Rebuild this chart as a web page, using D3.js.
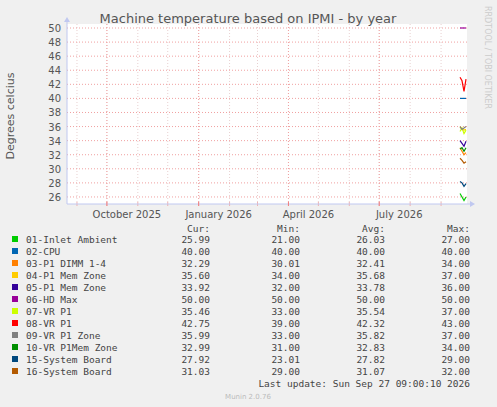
<!DOCTYPE html><html><head><script src="https://cdn.jsdelivr.net/npm/d3@7"></script>
<style>body{margin:0;background:#f0f0f0}text{font-family:"DejaVu Sans",sans-serif}text.m{font-family:"DejaVu Sans Mono",monospace}</style></head><body>
<svg id="c" width="497" height="407"></svg>
<script>
const names=["01-Inlet Ambient","02-CPU","03-P1 DIMM 1-4","04-P1 Mem Zone","05-P1 Mem Zone","06-HD Max","07-VR P1","08-VR P1","09-VR P1 Zone","10-VR P1Mem Zone","15-System Board","16-System Board"];
const colors=["#00cc00","#0066b3","#ff8000","#ffcc00","#330099","#990099","#ccff00","#ff0000","#808080","#008f00","#00487d","#b35a00"];
const cur=["25.99","40.00","32.29","35.60","33.92","50.00","35.46","42.75","35.99","32.99","27.92","31.03"];
const mins=["21.00","40.00","30.01","34.00","32.00","50.00","33.00","39.00","33.00","31.00","23.01","29.00"];
const avgs=["26.03","40.00","32.41","35.68","33.78","50.00","35.54","42.32","35.82","32.83","27.82","31.07"];
const maxs=["27.00","40.00","34.00","37.00","36.00","50.00","37.00","43.00","37.00","34.00","29.00","32.00"];
const days=["2026-09-20","2026-09-22","2026-09-24","2026-09-26"];
const series=[[26.5,26,25.5,26],[40,40,40,40],[33,32.5,32,32.3],[36,35.6,35.5,35.6],[34,33.6,33.2,33.9],[50,50,50,50],[35.3,35.8,35,35.5],[43,42.5,41,42.75],[36,35.6,35.8,36],[32.8,33,32.5,33],[28.2,28,27.5,27.9],[31.5,31.2,30.8,31]];
const xTicks=[["2025-10-01","October 2025"],["2026-01-01","January 2026"],["2026-04-01","April 2026"],["2026-07-01","July 2026"]];
const yTicks=d3.range(26,51,2);
const svg=d3.select("#c");
const L=67,R=467,T=28,B=204;
const x=d3.scaleTime().domain([new Date("2025-08-22"),new Date("2026-09-27")]).range([L,R]);
const y=d3.scaleLinear().domain([25,50]).range([B,T]);
svg.append("rect").attr("x",L).attr("y",T-4).attr("width",R-L).attr("height",B-T+4).attr("fill","#fff");
const months=d3.timeMonth.range(new Date("2025-09-01"),new Date("2026-09-28"));
svg.selectAll(".mg").data(months).join("line").attr("x1",d=>x(d)).attr("x2",d=>x(d)).attr("y1",T-4).attr("y2",B).attr("stroke","#e8d0d0").attr("stroke-dasharray","1,2");
svg.selectAll(".yg").data(yTicks).join("line").attr("x1",L).attr("x2",R).attr("y1",d=>y(d)).attr("y2",d=>y(d)).attr("stroke","#f0a0a0").attr("stroke-dasharray","1,2");
svg.selectAll(".xg").data(xTicks).join("line").attr("x1",d=>x(new Date(d[0]))).attr("x2",d=>x(new Date(d[0]))).attr("y1",T-4).attr("y2",B).attr("stroke","#f0a0a0").attr("stroke-dasharray","1,2");
svg.selectAll(".mtk").data(months).join("line").attr("x1",d=>x(d)).attr("x2",d=>x(d)).attr("y1",B-2).attr("y2",B+2).attr("stroke","#f0b0b0");
svg.append("line").attr("x1",L).attr("x2",R+4).attr("y1",B).attr("y2",B).attr("stroke","#c0c8f0");
svg.append("line").attr("x1",L).attr("x2",L).attr("y1",B).attr("y2",T-8).attr("stroke","#c0c8f0");
svg.append("path").attr("d",`M${R+3},${B-3}L${R+8},${B}L${R+3},${B+3}Z`).attr("fill","#c0c8f0");
svg.append("path").attr("d",`M${L-3},${T-6}L${L},${T-11}L${L+3},${T-6}Z`).attr("fill","#c0c8f0");
svg.selectAll(".yt").data(yTicks).join("text").attr("x",L-6).attr("y",d=>y(d)+4).attr("text-anchor","end").attr("font-size",10).attr("fill","#555").text(d=>d);
svg.selectAll(".xt").data(xTicks).join("text").attr("x",d=>x(new Date(d[0]))+20).attr("y",B+14).attr("text-anchor","middle").attr("font-size",10).attr("fill","#555").text(d=>d[1]);
svg.selectAll(".xtk").data(xTicks).join("line").attr("x1",d=>x(new Date(d[0]))).attr("x2",d=>x(new Date(d[0]))).attr("y1",B-2).attr("y2",B+2).attr("stroke","#f08080");
const ln=d3.line().x((d,i)=>x(new Date(days[i]))).y(d=>y(d));
series.forEach((s,i)=>svg.append("path").attr("d",ln(s)).attr("fill","none").attr("stroke",colors[i]).attr("stroke-width",1.2));
svg.append("text").attr("x",248).attr("y",23).attr("text-anchor","middle").attr("font-size",13).attr("fill","#555").text("Machine temperature based on IPMI - by year");
svg.append("text").attr("transform","translate(14,116) rotate(-90)").attr("text-anchor","middle").attr("font-size",11).attr("fill","#555").text("Degrees celcius");
svg.append("text").attr("transform","translate(485,6) rotate(90)").attr("font-size",8).attr("fill","#ccc").text("RRDTOOL / TOBI OETIKER");
const g=svg.append("g").attr("font-size",9.5).attr("fill","#444");
const hy=229, ry=240, dy=12;
[["Cur:",210],["Min:",300],["Avg:",385],["Max:",470]].forEach(h=>g.append("text").attr("class","m").attr("x",h[1]).attr("y",hy+3).attr("text-anchor","end").text(h[0]));
names.forEach((n,i)=>{
 const yy=ry+i*dy+3;
 svg.append("rect").attr("x",12).attr("y",yy-7).attr("width",6).attr("height",6).attr("fill",colors[i]);
 g.append("text").attr("class","m").attr("x",26).attr("y",yy).text(n);
 [[cur,210],[mins,300],[avgs,385],[maxs,470]].forEach(c=>g.append("text").attr("class","m").attr("x",c[1]).attr("y",yy).attr("text-anchor","end").text(c[0][i]));
});
g.append("text").attr("class","m").attr("x",470).attr("y",387).attr("text-anchor","end").text("Last update: Sun Sep 27 09:00:10 2026");
svg.append("text").attr("x",248).attr("y",399).attr("text-anchor","middle").attr("font-size",7).attr("fill","#bbb").text("Munin 2.0.76");
</script></body></html>
